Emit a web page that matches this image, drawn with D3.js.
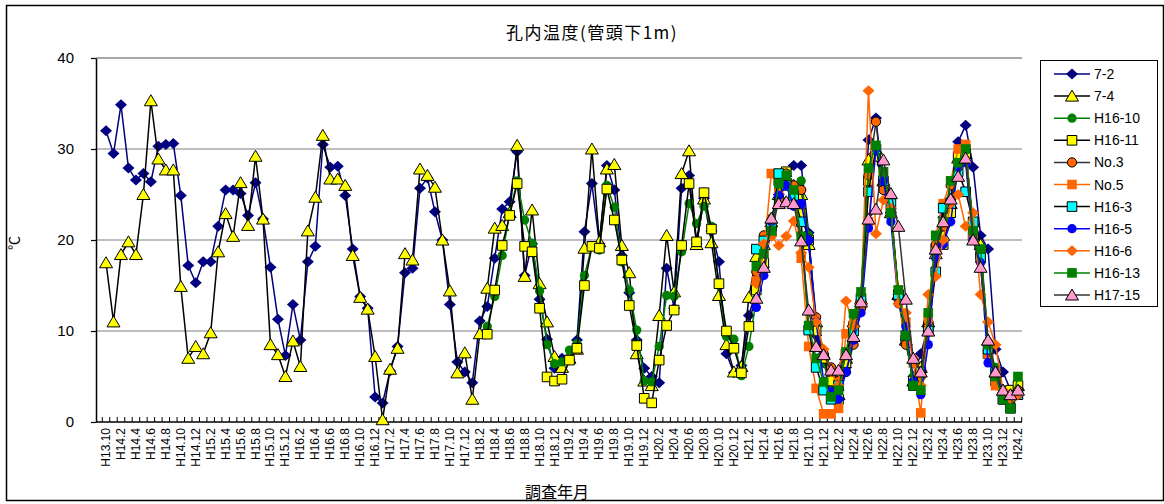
<!DOCTYPE html>
<html>
<head>
<meta charset="utf-8">
<script src="https://cdn.jsdelivr.net/npm/d3@7"></script>
<style>
  body { margin: 0; background: #fff; }
  svg { display: block; }
  .num { font-family: "Liberation Sans", Arial, sans-serif; }
  .jp { font-family: "Noto Sans CJK JP", sans-serif; }
</style>
</head>
<body>
<svg id="chart" width="1164" height="504"></svg>
<script>
// Survey months on the category axis (one per observation)
const months = [
  "H13.10",
  "H14.1","H14.2","H14.3","H14.4","H14.5","H14.6","H14.7","H14.8","H14.9","H14.10","H14.11","H14.12",
  "H15.1","H15.2","H15.3","H15.4","H15.5","H15.6","H15.7","H15.8","H15.9","H15.10","H15.11","H15.12",
  "H16.1","H16.2","H16.3","H16.4","H16.5","H16.6","H16.7","H16.8","H16.9","H16.10","H16.11","H16.12",
  "H17.1","H17.2","H17.3","H17.4","H17.5","H17.6","H17.7","H17.8","H17.9","H17.10","H17.11","H17.12",
  "H18.1","H18.2","H18.3","H18.4","H18.5","H18.6","H18.7","H18.8","H18.9","H18.10","H18.11","H18.12",
  "H19.1","H19.2","H19.3","H19.4","H19.5","H19.6","H19.7","H19.8","H19.9","H19.10","H19.11","H19.12",
  "H20.1","H20.2","H20.3","H20.4","H20.5","H20.6","H20.7","H20.8","H20.9","H20.10","H20.11","H20.12",
  "H21.1","H21.2","H21.3","H21.4","H21.5","H21.6","H21.7","H21.8","H21.9","H21.10","H21.11","H21.12",
  "H22.1","H22.2","H22.3","H22.4","H22.5","H22.6","H22.7","H22.8","H22.9","H22.10","H22.11","H22.12",
  "H23.1","H23.2","H23.3","H23.4","H23.5","H23.6","H23.7","H23.8","H23.9","H23.10","H23.11","H23.12",
  "H24.1","H24.2"
];

// Labelled months (every second category)
const tickLabels = [
  "H13.10","H14.2","H14.4","H14.6","H14.8","H14.10","H14.12",
  "H15.2","H15.4","H15.6","H15.8","H15.10","H15.12",
  "H16.2","H16.4","H16.6","H16.8","H16.10","H16.12",
  "H17.2","H17.4","H17.6","H17.8","H17.10","H17.12",
  "H18.2","H18.4","H18.6","H18.8","H18.10","H18.12",
  "H19.2","H19.4","H19.6","H19.8","H19.10","H19.12",
  "H20.2","H20.4","H20.6","H20.8","H20.10","H20.12",
  "H21.2","H21.4","H21.6","H21.8","H21.10","H21.12",
  "H22.2","H22.4","H22.6","H22.8","H22.10","H22.12",
  "H23.2","H23.4","H23.6","H23.8","H23.10","H23.12",
  "H24.2"
];
const yTicks = [0, 10, 20, 30, 40];

// Borehole temperatures (°C), 1 m below pipe head
const start72 = "H13.10";
const temp72 = [
  32.0, 29.5, 34.85, 27.9, 26.6, 27.3, 26.4, 30.3, 30.5, 30.6,
  24.9, 17.2, 15.3, 17.6, 17.6, 21.5, 25.5, 25.5, 25.1, 22.7,
  26.3, 22.3, 17.0, 11.3, 7.3, 12.9, 9.0, 17.6, 19.3, 30.5,
  28.0, 28.1, 24.9, 19.0, 13.8, 12.5, 2.75, 2.1, 5.6, 8.3,
  16.4, 16.9, 25.7, 26.8, 23.1, 20.0, 12.9, 6.6, 5.5, 4.3,
  11.1, 12.7, 18.0, 23.4, 24.2, 29.7, 16.1, 19.6, 13.5, 9.1,
  5.9, 7.0, 6.8, 9.0, 20.9, 26.2, 19.6, 28.2, 25.5, 18.3,
  14.2, 9.0, 5.9, 5.0, 4.3, 16.9, 12.5, 25.7, 27.1, 19.6,
  24.6, 21.0, 17.6, 7.5, 5.4, 6.2,
  11.7, 14.5, 17.0, 21.5, 25.0, 27.0, 28.2, 28.2, 20.8, 9.5,
  6.5, 4.5, 3.5, 6.0, 9.0, 13.0, 31.0, 33.4, 25.5, 23.0,
  14.0, 9.0, 5.0, 7.5, 10.5, 18.5, 22.5, 24.5, 30.8, 32.6,
  28.0, 20.5, 19.0, 8.0, 5.5, 3.5, 3.0
];

const start74 = "H13.10";
const temp74 = [
  17.5, 11.0, 18.4, 19.8, 18.4, 25.0, 35.3, 28.9, 27.7, 27.7,
  14.9, 7.0, 8.3, 7.5, 9.8, 18.7, 22.9, 20.4, 26.3, 21.6,
  29.2, 22.3, 8.5, 7.4, 5.0, 8.9, 6.1, 21.0, 24.7, 31.5,
  26.7, 26.7, 26.0, 18.3, 13.7, 12.4, 7.2, 0.25, 5.8, 8.1,
  18.5, 17.8, 27.8, 27.1, 25.8, 20.0, 14.4, 5.4, 7.6, 2.5,
  9.7, 14.7, 21.3, 21.6, 23.0, 30.4, 16.0, 23.3, 15.2, 11.0,
  7.2, 6.0, 7.0, 8.0, 19.1, 30.0, 19.8, 27.8, 28.3, 19.4,
  16.4, 7.5, 4.5, 4.0, 11.7, 20.5, 14.3, 27.3, 29.8, 19.5,
  24.5, 19.7, 13.9, 8.5, 5.5, 6.1,
  13.7, 18.2, 19.5, 22.0, 25.0, 27.0, 26.0, 25.0, 19.5, 11.0,
  7.5, 5.0, 3.0, 7.0, 11.0, 13.5, 28.8, 30.0, 26.5, 23.0,
  14.0, 9.0, 4.5, 6.0, 11.0, 18.5, 20.5, 24.0, 29.0, 29.5,
  22.0, 19.5, 9.0, 5.5, 3.5, 3.0, 4.0
];

const startH1610 = "H18.3";
const tempH1610 = [
  10.5, 13.8, 18.3, 22.9, 26.5, 22.2, 19.6, 14.4, 8.5, 6.4,
  6.6, 7.9, 8.6, 16.1, 19.3, 18.9, 26.0, 23.6, 17.6, 14.5,
  10.1, 4.5, 4.4, 8.3, 13.9, 13.8, 18.7, 24.0, 21.8, 23.7,
  21.5, 15.0, 9.4, 9.1, 5.1,
  8.3, 13.5, 17.0, 22.4, 25.5, 26.5, 26.0, 26.5, 20.5, 10.5,
  6.5, 3.5, 2.5, 6.5, 11.0, 14.0, 27.5, 30.0, 26.0, 22.5,
  14.5, 8.5, 5.0, 3.5, 11.0, 18.5, 21.5, 24.0, 28.5, 30.0,
  21.0, 19.0, 8.5, 6.0, 3.5, 2.0, 4.5
];

const startH1611 = "H18.3";
const tempH1611 = [
  9.65, 14.5, 19.4, 22.7, 26.2, 19.3, 18.7, 12.5, 4.95, 4.5,
  4.7, 6.8, 8.1, 15.0, 19.3, 19.1, 25.6, 22.2, 17.8, 12.8,
  8.4, 2.6, 2.1, 6.8, 10.6, 12.3, 19.4, 26.2, 19.8, 25.2,
  21.2, 15.2, 10.0, 8.1, 5.4,
  10.5, 14.5, 17.5, 21.0, 26.5, 27.5, 25.0, 22.9, 20.0, 10.0,
  7.0, 4.5, 2.5, 6.5, 10.5, 13.0, 26.5, 29.2, 26.0, 23.0,
  14.0, 9.0, 4.5, 5.5, 10.5, 19.0, 19.5, 23.0, 29.2, 29.5,
  20.5, 18.5, 7.5, 4.5, 2.5, 3.5, 4.0
];

const startNo3 = "H21.3";
const tempNo3 = [
  16.5, 20.5, 20.5, 24.5, 27.3, 26.0, 25.5, 20.0, 11.5, 7.5,
  6.0, 4.5, 5.5, 8.5, 12.5, 27.1, 33.0, 25.5, 23.0, 13.5,
  8.5, 6.5, 5.0, 11.0, 19.5, 21.5, 26.0, 28.0, 30.3, 21.0,
  18.5, 7.5, 5.0, 3.0, 3.0, 3.5
];

const startNo5 = "H21.3";
const tempNo5 = [
  15.5, 18.5, 27.3, 25.5, 27.0, 25.5, 18.0, 8.3, 3.7, 0.9,
  0.9, 1.5, 9.7, 10.7, 13.5, 22.0, 30.0, 27.5, 23.0, 14.5,
  11.0, 6.5, 1.0, 11.5, 20.5, 24.0, 26.5, 30.0, 30.5, 20.5,
  18.5, 7.5, 4.0, 3.0, 2.5, 3.0
];

const startH163 = "H21.3";
const tempH163 = [
  19.0, 19.9, 21.5, 27.3, 26.0, 24.9, 22.0, 10.1, 6.0, 3.5,
  2.5, 4.0, 7.5, 10.0, 13.6, 25.3, 30.0, 26.5, 24.0, 14.0,
  9.5, 4.0, 5.5, 10.0, 16.5, 23.5, 24.0, 27.5, 25.3, 22.0,
  18.0, 8.0, 5.5, 2.5, 1.5, 3.0
];

const startH165 = "H21.3";
const tempH165 = [
  12.6, 16.1, 22.0, 24.9, 26.0, 23.7, 24.0, 20.0, 11.0, 4.5,
  3.3, 2.5, 5.5, 9.0, 12.0, 21.3, 30.0, 26.5, 22.0, 13.0,
  10.5, 4.5, 3.0, 8.5, 18.0, 19.5, 22.0, 28.0, 28.5, 20.0,
  17.5, 6.5, 5.5, 3.0, 2.5, 3.0
];

const startH166 = "H21.3";
const tempH166 = [
  15.2, 19.6, 20.4, 19.4, 20.4, 22.1, 18.6, 17.0, 11.0, 8.0,
  5.5, 4.0, 13.3, 10.5, 13.0, 36.4, 20.7, 24.4, 23.5, 13.0,
  12.0, 7.0, 4.0, 14.0, 16.0, 20.0, 24.0, 25.0, 21.5, 23.0,
  14.0, 11.0, 8.5, 3.5, 2.5, 3.0
];

const startH1613 = "H21.3";
const tempH1613 = [
  17.1, 18.5, 21.0, 26.2, 27.1, 25.5, 20.4, 10.6, 7.0, 4.4,
  2.75, 3.5, 7.7, 11.9, 14.3, 27.9, 30.4, 27.5, 23.0, 14.5,
  9.5, 4.0, 3.5, 12.0, 20.5, 22.0, 26.5, 28.5, 30.0, 21.0,
  19.0, 8.5, 5.0, 2.5, 1.5, 5.0
];

const startH1715 = "H21.3";
const tempH1715 = [
  13.6, 17.0, 22.4, 24.0, 24.2, 24.0, 19.9, 12.3, 8.3, 7.4,
  5.7, 5.7, 7.4, 9.4, 13.2, 22.3, 23.4, 28.8, 25.1, 21.5,
  13.5, 7.0, 5.5, 10.0, 19.0, 22.0, 24.5, 27.0, 29.0, 20.0,
  17.0, 9.0, 5.5, 3.5, 3.0, 3.5
];

// Series styling: line colour, marker shape, marker fill and outline
const series = [
  { name: "7-2",    start: start72,    values: temp72,    line: "#000080", shape: "diamond",  fill: "#000080", stroke: "none" },
  { name: "7-4",    start: start74,    values: temp74,    line: "#000000", shape: "triangle", fill: "#FFFF00", stroke: "#000000" },
  { name: "H16-10", start: startH1610, values: tempH1610, line: "#008000", shape: "circle",   fill: "#008000", stroke: "none" },
  { name: "H16-11", start: startH1611, values: tempH1611, line: "#000000", shape: "square",   fill: "#FFFF00", stroke: "#000000" },
  { name: "No.3",   start: startNo3,   values: tempNo3,   line: "#333333", shape: "circle",   fill: "#FF6600", stroke: "#000000" },
  { name: "No.5",   start: startNo5,   values: tempNo5,   line: "#FF6600", shape: "square",   fill: "#FF6600", stroke: "none" },
  { name: "H16-3",  start: startH163,  values: tempH163,  line: "#000000", shape: "square",   fill: "#00FFFF", stroke: "#000000" },
  { name: "H16-5",  start: startH165,  values: tempH165,  line: "#0000FF", shape: "circle",   fill: "#0000FF", stroke: "none" },
  { name: "H16-6",  start: startH166,  values: tempH166,  line: "#FF6600", shape: "diamond",  fill: "#FF6600", stroke: "none" },
  { name: "H16-13", start: startH1613, values: tempH1613, line: "#008000", shape: "square",   fill: "#008000", stroke: "none" },
  { name: "H17-15", start: startH1715, values: tempH1715, line: "#333333", shape: "triangle", fill: "#FF99CC", stroke: "#000000" }
];

const svg = d3.select("#chart");
const plot = { left: 96, right: 1022, top: 58, bottom: 422 };

// Outer chart border
svg.append("rect")
  .attr("x", 6.5).attr("y", 5.5).attr("width", 1157).attr("height", 495)
  .attr("fill", "#fff").attr("stroke", "#000").attr("stroke-width", 1.5);

// Scales
const x = d3.scaleBand().domain(months).range([102.3, 1021.7]).padding(0);
const cx = m => x(m) + x.bandwidth() / 2;
const y = d3.scaleLinear().domain([0, 40]).range([plot.bottom, plot.top]);

// Horizontal gridlines
svg.append("g").selectAll("line")
  .data(yTicks.filter(v => v > 0))
  .join("line")
  .attr("x1", plot.left).attr("x2", plot.right)
  .attr("y1", d => y(d)).attr("y2", d => y(d))
  .attr("stroke", d => d === 40 ? "#555" : "#a8a8a8")
  .attr("stroke-width", d => d === 40 ? 1.2 : 1.5);

// Value axis
const yAxis = svg.append("g")
  .attr("transform", `translate(${plot.left},0)`)
  .call(d3.axisLeft(y).tickValues(yTicks).tickSize(5).tickPadding(17).tickSizeOuter(0));
yAxis.select(".domain").attr("stroke", "#000").attr("stroke-width", 1.5);
yAxis.selectAll(".tick line").attr("stroke", "#000").attr("stroke-width", 1.2);
yAxis.selectAll("text")
  .attr("class", "num").attr("font-size", 15).attr("fill", "#000");

// Category axis with a tick between every month
const bounds = months.map(m => x(m)).concat([x(months[months.length - 1]) + x.bandwidth()]);
const xg = svg.append("g");
xg.append("line")
  .attr("x1", plot.left).attr("x2", plot.right)
  .attr("y1", plot.bottom).attr("y2", plot.bottom)
  .attr("stroke", "#000").attr("stroke-width", 1.5);
xg.selectAll("line.tk").data(bounds).join("line").attr("class", "tk")
  .attr("x1", d => d).attr("x2", d => d)
  .attr("y1", plot.bottom).attr("y2", plot.bottom - 5)
  .attr("stroke", "#000").attr("stroke-width", 1);
xg.selectAll("text").data(tickLabels).join("text")
  .attr("class", "num")
  .attr("transform", d => `translate(${cx(d) + 4},${plot.bottom + 6}) rotate(-90)`)
  .attr("text-anchor", "end")
  .attr("font-size", 12)
  .text(d => d);

// Marker shapes
function markerPath(shape) {
  switch (shape) {
    case "diamond":  return "M0,-5.5L6,0L0,5.5L-6,0Z";
    case "triangle": return "M0,-6L6.5,5L-6.5,5Z";
    case "square":   return "M-4.8,-4.8H4.8V4.8H-4.8Z";
    default:         return d3.symbol(d3.symbolCircle, 68)();
  }
}

function seriesPoints(s) {
  const i0 = months.indexOf(s.start);
  return s.values.map((v, i) => ({ m: months[i0 + i], v }));
}

const line = d3.line()
  .defined(d => d.v != null)
  .x(d => cx(d.m))
  .y(d => y(d.v));

const gSeries = svg.append("g");
series.forEach(s => {
  const pts = seriesPoints(s);
  const g = gSeries.append("g");
  g.append("path")
    .datum(pts)
    .attr("d", line)
    .attr("fill", "none")
    .attr("stroke", s.line)
    .attr("stroke-width", 1.5);
  g.selectAll("path.mk")
    .data(pts.filter(d => d.v != null))
    .join("path").attr("class", "mk")
    .attr("d", markerPath(s.shape))
    .attr("transform", d => `translate(${cx(d.m)},${y(d.v)})`)
    .attr("fill", s.fill)
    .attr("stroke", s.stroke)
    .attr("stroke-width", s.stroke === "none" ? 0 : 1);
});

// Title and axis titles
svg.append("text")
  .attr("class", "jp")
  .attr("x", 592).attr("y", 39)
  .attr("text-anchor", "middle")
  .attr("font-size", 17)
  .attr("letter-spacing", 1.5)
  .text("孔内温度(管頭下1m)");

svg.append("text")
  .attr("class", "jp")
  .attr("x", 557).attr("y", 498)
  .attr("text-anchor", "middle")
  .attr("font-size", 16)
  .text("調査年月");

svg.append("text")
  .attr("class", "jp")
  .attr("transform", "translate(19,243) rotate(-90)")
  .attr("text-anchor", "middle")
  .attr("font-size", 14)
  .text("℃");

// Legend
const legend = svg.append("g");
legend.append("rect")
  .attr("x", 1040.5).attr("y", 60.5).attr("width", 117).attr("height", 246)
  .attr("fill", "#fff").attr("stroke", "#000").attr("stroke-width", 1);
const ly = i => 74 + i * 22.1;
series.forEach((s, i) => {
  const g = legend.append("g");
  g.append("line")
    .attr("x1", 1054).attr("x2", 1090)
    .attr("y1", ly(i)).attr("y2", ly(i))
    .attr("stroke", s.line).attr("stroke-width", 1.5);
  g.append("path")
    .attr("d", markerPath(s.shape))
    .attr("transform", `translate(1072,${ly(i)})`)
    .attr("fill", s.fill)
    .attr("stroke", s.stroke)
    .attr("stroke-width", s.stroke === "none" ? 0 : 1);
  g.append("text")
    .attr("class", "num")
    .attr("x", 1094).attr("y", ly(i) + 5)
    .attr("font-size", 14)
    .text(s.name);
});
</script>
</body>
</html>
